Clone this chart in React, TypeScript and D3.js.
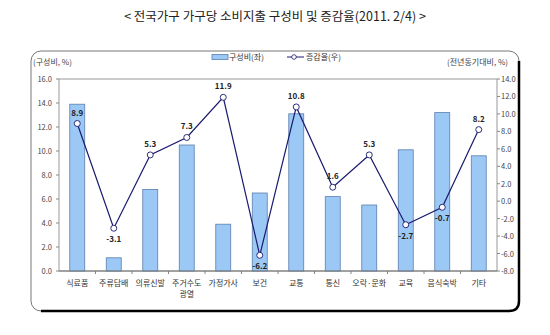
import React from "react";
import * as d3 from "d3";

const categories: string[][] = [
  ["식료품"], ["주류담배"], ["의류신발"], ["주거수도", "광열"], ["가정가사"], ["보건"],
  ["교통"], ["통신"], ["오락·문화"], ["교육"], ["음식숙박"], ["기타"],
];
const shareValues = [13.9, 1.1, 6.8, 10.5, 3.9, 6.5, 13.1, 6.2, 5.5, 10.1, 13.2, 9.6];
const growthValues = [8.9, -3.1, 5.3, 7.3, 11.9, -6.2, 10.8, 1.6, 5.3, -2.7, -0.7, 8.2];
const leftTicks = [0, 2, 4, 6, 8, 10, 12, 14, 16];
const rightTicks = [-8, -6, -4, -2, 0, 2, 4, 6, 8, 10, 12, 14];
const labelBelow = [false, true, false, false, false, true, false, false, false, true, true, false];

const FONT = "'Noto Sans CJK KR', 'Noto Sans', sans-serif";

export default function App() {
  const W = 550, H = 335;
  const left = 59, right = 497, top = 79, bottom = 271;
  const idx = categories.map((_, i) => String(i));
  const x = d3.scaleBand<string>().domain(idx).range([left, right]).padding(0);
  const yL = d3.scaleLinear().domain([0, 16]).range([bottom, top]);
  const yR = d3.scaleLinear().domain([-8, 14]).range([bottom, top]);
  const bw = x.bandwidth() * 0.41;
  const cx = (i: number) => (x(String(i)) as number) + x.bandwidth() / 2;
  const line = d3.line<number>().x((_, i) => cx(i)).y((d) => yR(d));

  const frame = { x0: 31, y0: 51, x1: 519, y1: 311, r: 10 };

  return (
    <svg width={W} height={H} style={{ position: "absolute", left: 0, top: 0, background: "#fff" }} fontFamily={FONT}>
      <text x={275} y={21} textAnchor="middle" fontSize={12.5} fill="#222">
        {"< 전국가구 가구당 소비지출 구성비 및 증감율(2011. 2/4) >"}
      </text>
      {/* frame */}
      <rect x={frame.x0} y={frame.y0} width={frame.x1 - frame.x0} height={frame.y1 - frame.y0} rx={frame.r} ry={frame.r} fill="#fff" stroke="#777" strokeWidth={1} />
      <path
        d={`M${frame.x1},${frame.y0 + frame.r} L${frame.x1},${frame.y1 - frame.r} Q${frame.x1},${frame.y1} ${frame.x1 - frame.r},${frame.y1} L${frame.x0 + frame.r},${frame.y1}`}
        fill="none" stroke="#000" strokeWidth={2.5} />
      {/* axis titles */}
      <text x={33} y={65} fontSize={8} fill="#444">(구성비, %)</text>
      <text x={508} y={65} fontSize={8} fill="#444" textAnchor="end">(전년동기대비, %)</text>
      {/* legend */}
      <rect x={212} y={54.5} width={16} height={5} fill="#9cc8f5" stroke="#5a7fae" strokeWidth={0.8} />
      <text x={229} y={60} fontSize={8} fill="#333">구성비(좌)</text>
      <line x1={287} x2={304} y1={57} y2={57} stroke="#1a1a6e" strokeWidth={1} />
      <circle cx={294} cy={57} r={2.3} fill="#fff" stroke="#1a1a6e" strokeWidth={0.8} />
      <text x={306} y={60} fontSize={8} fill="#333">증감율(우)</text>
      {/* plot frame */}
      <rect x={left} y={top} width={right - left} height={bottom - top} fill="none" stroke="#999" strokeWidth={1} />
      {/* left axis */}
      {leftTicks.map((t) => (
        <g key={"l" + t}>
          <line x1={left - 3} x2={left} y1={yL(t)} y2={yL(t)} stroke="#888" />
          <text x={52} y={yL(t) + 3} fontSize={7.5} textAnchor="end" fill="#444">{t.toFixed(1)}</text>
        </g>
      ))}
      {/* right axis */}
      {rightTicks.map((t) => (
        <g key={"r" + t}>
          <line x1={right} x2={right + 3} y1={yR(t)} y2={yR(t)} stroke="#888" />
          <text x={501} y={yR(t) + 3} fontSize={7.5} fill="#444">{t.toFixed(1)}</text>
        </g>
      ))}
      {/* x ticks */}
      {idx.slice(1).map((k) => (
        <line key={"xt" + k} x1={x(k) as number} x2={x(k) as number} y1={bottom} y2={bottom + 3} stroke="#888" />
      ))}
      {/* bars */}
      {shareValues.map((v, i) => (
        <rect key={"b" + i} x={cx(i) - bw / 2} y={yL(v)} width={bw} height={bottom - yL(v)} fill="#9cc8f5" stroke="#5a7fae" strokeWidth={0.8} />
      ))}
      <line x1={left} x2={right} y1={bottom} y2={bottom} stroke="#777" />
      {/* line */}
      <path d={line(growthValues) || ""} fill="none" stroke="#1a1a6e" strokeWidth={1.2} />
      {growthValues.map((v, i) => (
        <g key={"p" + i}>
          <circle cx={cx(i)} cy={yR(v)} r={3} fill="#fff" stroke="#1a1a6e" strokeWidth={0.9} />
          <text x={cx(i)} y={labelBelow[i] ? yR(v) + 14 : yR(v) - 8} fontSize={8} fontWeight="bold" textAnchor="middle" fill="#222">
            {v.toFixed(1)}
          </text>
        </g>
      ))}
      {/* category labels */}
      {categories.map((lines, i) => (
        <text key={"c" + i} x={cx(i)} y={286} fontSize={8} textAnchor="middle" fill="#333">
          {lines.map((s, j) => (
            <tspan key={j} x={cx(i)} dy={j === 0 ? 0 : 11}>{s}</tspan>
          ))}
        </text>
      ))}
    </svg>
  );
}
